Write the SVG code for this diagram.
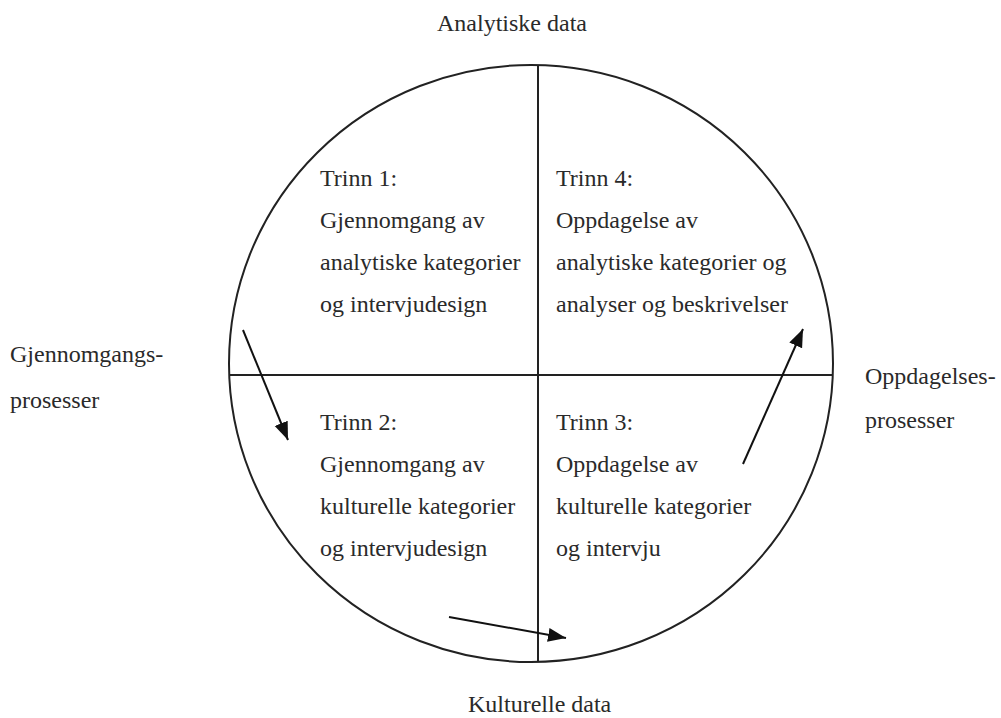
<svg xmlns="http://www.w3.org/2000/svg" width="1001" height="718" viewBox="0 0 1001 718">
<style>
text{font-family:"Liberation Serif","Times New Roman",serif;font-size:24px;fill:#2a2a2a}
.ln{stroke:#222;stroke-width:2;fill:none}
.ar{stroke:#111;stroke-width:2;fill:none;marker-end:url(#ah)}
</style>
<defs>
<marker id="ah" markerUnits="userSpaceOnUse" markerWidth="20" markerHeight="16" refX="18" refY="8" orient="auto">
<path d="M0,1 L18,8 L0,15 Z" fill="#111"/>
</marker>
</defs>
<rect width="1001" height="718" fill="#fff"/>
<g id="frame">
<ellipse class="ln" cx="531" cy="363.5" rx="302" ry="298.5"/>
<line class="ln" x1="538" y1="65" x2="538" y2="662"/>
<line class="ln" x1="229" y1="375" x2="833" y2="375"/>
</g>
<g id="axis-labels">
<text x="437" y="31">Analytiske data</text>
<text x="468" y="712">Kulturelle data</text>
<text x="10" y="362">Gjennomgangs-</text>
<text x="10" y="408">prosesser</text>
<text x="865" y="384">Oppdagelses-</text>
<text x="865" y="428">prosesser</text>
</g>
<g id="trinn1">
<text x="320" y="186">Trinn 1:</text>
<text x="320" y="228">Gjennomgang av</text>
<text x="320" y="270">analytiske kategorier</text>
<text x="320" y="312">og intervjudesign</text>
</g>
<g id="trinn4">
<text x="556" y="186">Trinn 4:</text>
<text x="556" y="228">Oppdagelse av</text>
<text x="556" y="270">analytiske kategorier og</text>
<text x="556" y="312">analyser og beskrivelser</text>
</g>
<g id="trinn2">
<text x="320" y="430">Trinn 2:</text>
<text x="320" y="472">Gjennomgang av</text>
<text x="320" y="514">kulturelle kategorier</text>
<text x="320" y="556">og intervjudesign</text>
</g>
<g id="trinn3">
<text x="556" y="430">Trinn 3:</text>
<text x="556" y="472">Oppdagelse av</text>
<text x="556" y="514">kulturelle kategorier</text>
<text x="556" y="556">og intervju</text>
</g>
<g id="connectors">
<line class="ar" x1="243" y1="330" x2="288" y2="440"/>
<line class="ar" x1="449" y1="617" x2="566" y2="638"/>
<line class="ar" x1="743" y1="464" x2="803" y2="329"/>
</g>
</svg>
